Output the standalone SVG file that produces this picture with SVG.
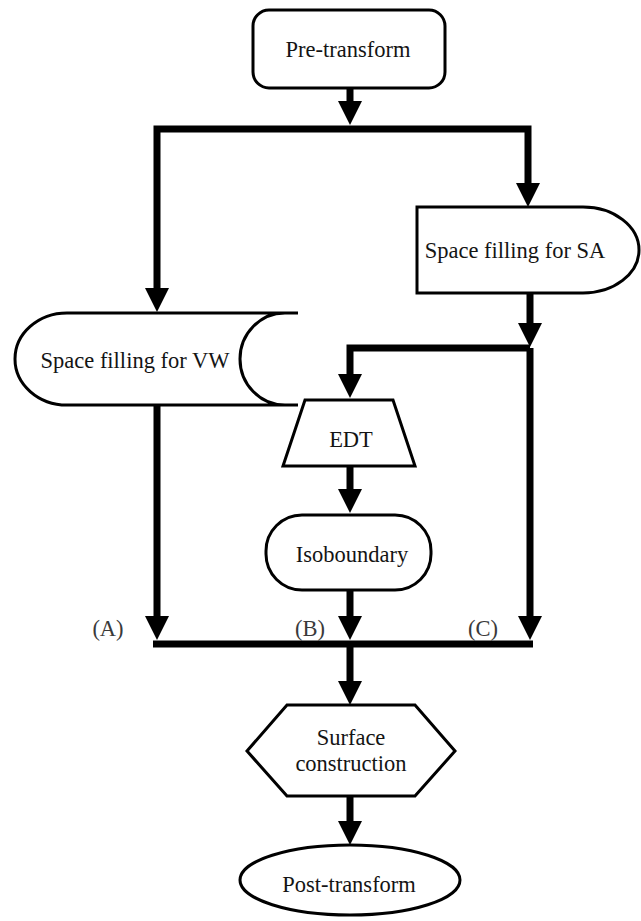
<svg xmlns="http://www.w3.org/2000/svg" width="641" height="921" viewBox="0 0 641 921">
<style>
.shape{fill:#fff;stroke:#000;stroke-width:3;stroke-linejoin:miter}
.line{fill:none;stroke:#000;stroke-width:3}
.conn{fill:none;stroke:#000;stroke-width:7;stroke-linejoin:miter}
.arr{fill:none;stroke:#000;stroke-width:7;marker-end:url(#ah)}
.t{font-family:'Liberation Serif','Times New Roman','DejaVu Serif',serif;font-size:22.5px;fill:#141414;text-anchor:middle}
.lbl{fill:#3a3a3a}
</style>
<defs>
<marker id="ah" markerUnits="userSpaceOnUse" viewBox="0 0 24 24" refX="0" refY="12" markerWidth="24" markerHeight="24" orient="auto">
<path d="M0,0 L24,12 L0,24 Z" fill="#000"/>
</marker>
</defs>
<rect width="641" height="921" fill="#fff"/>
<g id="connectors">
<path class="arr" d="M350,88 V101"/>
<path class="arr" d="M350,129 H157 V288"/>
<path class="arr" d="M350,129 H528 V183"/>
<path class="arr" d="M530,293 V323"/>
<path class="arr" d="M530,348 H350 V374"/>
<path class="arr" d="M530,348 V616"/>
<path class="arr" d="M157,405 V616"/>
<path class="arr" d="M350,466 V489"/>
<path class="arr" d="M350,590 V616"/>
<path class="conn" d="M153,644 H533"/>
<path class="arr" d="M350,644 V681"/>
<path class="arr" d="M350,796 V821"/>
</g>
<g id="pre-transform">
<rect class="shape" x="253" y="10" width="192" height="78" rx="16"/>
<text class="t" x="348" y="57" font-family="Liberation Serif, serif">Pre-transform</text>
</g>
<g id="space-filling-sa">
<path class="shape" d="M417,207 H583 A56,43 0 0 1 583,293 H417 Z"/>
<text class="t" x="515" y="258" font-family="Liberation Serif, serif">Space filling for SA</text>
</g>
<g id="space-filling-vw">
<path d="M67,313 H285 A45,46 0 0 0 285,405 H67 A52,46 0 0 1 67,313 Z" fill="#fff"/>
<path class="line" d="M67,313 H298 M285,313 A45,46 0 0 0 285,405 M298,405 H67 A52,46 0 0 1 67,313"/>
<text class="t" x="135" y="368" font-family="Liberation Serif, serif">Space filling for VW</text>
</g>
<g id="edt">
<polygon class="shape" points="305,400 393,400 415,466 283,466"/>
<text class="t" x="351" y="447" font-family="Liberation Serif, serif">EDT</text>
</g>
<g id="isoboundary">
<rect class="shape" x="266" y="515" width="165" height="75" rx="36"/>
<text class="t" x="352" y="562" font-family="Liberation Serif, serif">Isoboundary</text>
</g>
<g id="labels">
<text class="t lbl" x="108" y="636" font-family="Liberation Serif, serif">(A)</text>
<text class="t lbl" x="310" y="636" font-family="Liberation Serif, serif">(B)</text>
<text class="t lbl" x="483" y="636" font-family="Liberation Serif, serif">(C)</text>
</g>
<g id="surface-construction">
<polygon class="shape" points="287,705 415,705 455,751 415,796 287,796 247,751"/>
<text class="t" x="351" y="745" font-family="Liberation Serif, serif">Surface</text>
<text class="t" x="351" y="771" font-family="Liberation Serif, serif">construction</text>
</g>
<g id="post-transform">
<ellipse class="shape" cx="350" cy="880" rx="110" ry="35"/>
<text class="t" x="349" y="892" font-family="Liberation Serif, serif">Post-transform</text>
</g>
</svg>
